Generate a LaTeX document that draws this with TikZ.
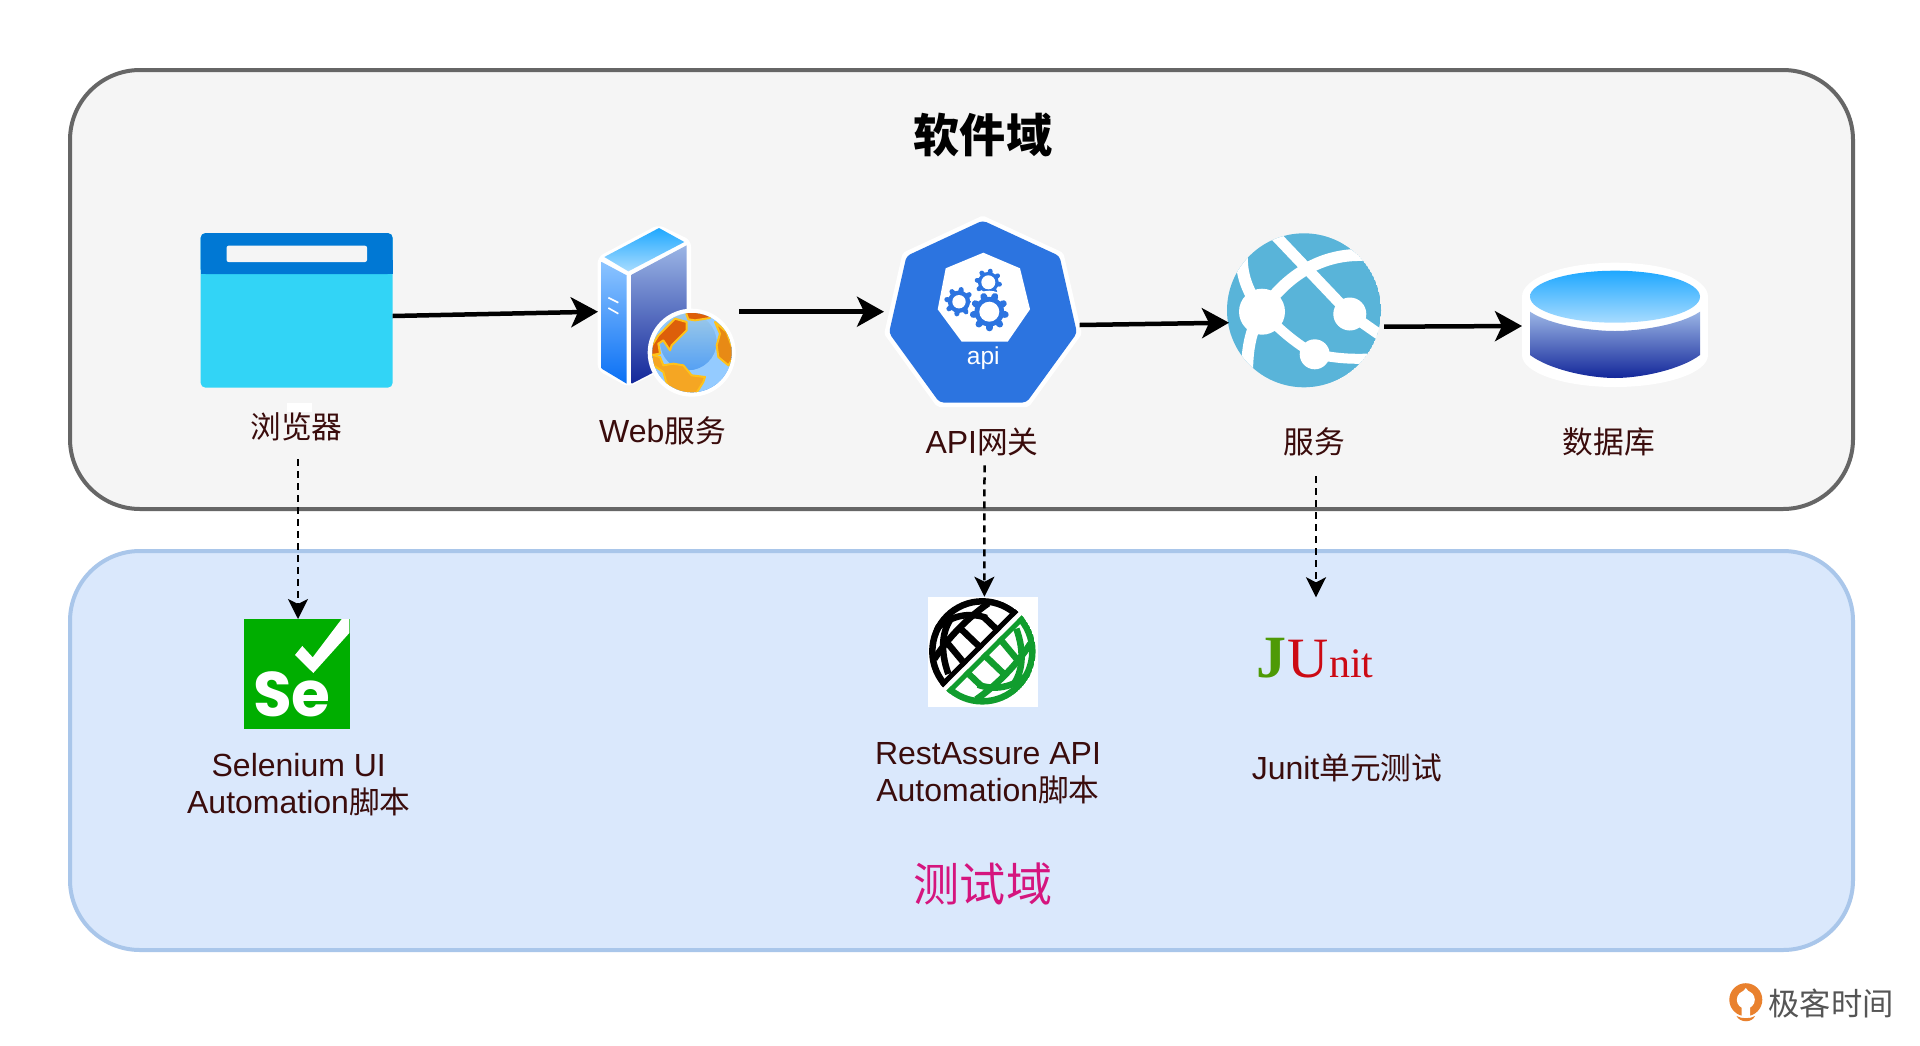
\documentclass[tikz,border=0pt]{standalone}
\usepackage{fontspec}
\setmainfont{Liberation Sans}
\newfontfamily\cjk[Scale=0.96]{Noto Sans CJK SC}
\newfontfamily\seriflogo{Liberation Serif}
\newfontfamily\logosans{Poppins}
\usetikzlibrary{arrows.meta,calc,shadings}
\definecolor{inkmaroon}{HTML}{3A0C0C}
\definecolor{softgrey}{HTML}{F5F5F5}
\definecolor{softedge}{HTML}{666666}
\definecolor{testfill}{HTML}{DAE8FC}
\definecolor{testedge}{HTML}{A9C6EA}
\definecolor{k8sblue}{HTML}{2C74E0}
\definecolor{azureblue}{HTML}{59B4D9}
\definecolor{segreen}{HTML}{00AE00}
\definecolor{ragreen}{HTML}{119D2E}
\definecolor{testpink}{HTML}{D5157E}
\definecolor{landyellow}{HTML}{FFC21A}
\definecolor{landdark}{HTML}{DD5F0A}
\definecolor{landmid}{HTML}{E88A15}
\definecolor{landlight}{HTML}{F5A623}
\definecolor{winhead}{HTML}{0078D4}
\definecolor{winbody}{HTML}{32D4F6}
\definecolor{skytop}{HTML}{1FA8FF}
\definecolor{skylow}{HTML}{A8DCFF}
\definecolor{bodytop}{HTML}{9BB5E5}
\definecolor{bodylow}{HTML}{13279A}
\definecolor{sidetop}{HTML}{8CC4FF}
\definecolor{sidelow}{HTML}{0A70F5}
\definecolor{juGreen}{HTML}{4E9A06}
\definecolor{juRed}{HTML}{CC0A14}
\definecolor{gtorange}{HTML}{E9812E}
\definecolor{gtgrey}{HTML}{555555}
\tikzset{
  domainbox/.style={line width=4pt,rounded corners=70pt},
  iconbox/.style={inner sep=0pt,outer sep=0pt},
  caption/.style={inner sep=0pt,text=inkmaroon,align=center,font=\fontsize{32}{37}\selectfont},
  flow/.style={line width=4.5pt,black,-{Stealth[length=27pt,width=30pt,inset=7pt]}},
  trace/.style={line width=2.5pt,black,dash pattern=on 7pt off 5pt,-{Stealth[length=20pt,width=20pt,inset=5pt]}},
  globeline/.style={white,line width=12pt},
  ragrid/.style={line width=6.5pt},
  landedge/.style={draw=landyellow,line width=2pt,line join=round},
}
\newcommand{\gearmark}[5]{%
  \fill[k8sblue] (#1,#2) circle[radius=0.8*#3];
  \foreach \a in {1,...,#5}{
    \draw[k8sblue,line cap=round,line width=0.36*#3 pt]
      ({#1+0.7*#3*cos(\a*360/#5+10)},{#2+0.7*#3*sin(\a*360/#5+10)}) --
      ({#1+0.88*#3*cos(\a*360/#5+10)},{#2+0.88*#3*sin(\a*360/#5+10)});
  }
  \fill[white] (#1,#2) circle[radius=#4];
}
\begin{document}
\begin{tikzpicture}[x=1pt,y=-1pt]
\useasboundingbox (0,0) rectangle (1920,1045);
\fill[white] (0,0) rectangle (1920,1045);

% domains
\draw[domainbox,draw=softedge,fill=softgrey] (70,70) rectangle (1853,509);
\draw[domainbox,draw=testedge,fill=testfill] (70,551) rectangle (1853,950);
\node[iconbox,font=\cjk\bfseries\fontsize{48}{50}\selectfont] (softtitle) at (983,135) {软件域};
\node[iconbox,text=testpink,font=\cjk\fontsize{48}{50}\selectfont] (testtitle) at (983,884) {测试域};

% holders of the icons
\node[iconbox,minimum width=192pt,minimum height=155pt] (browser) at (296.6,310.4) {};
\node[iconbox,minimum width=137pt,minimum height=160pt] (webserver) at (666.5,311.7) {};
\node[iconbox,minimum width=195pt,minimum height=180pt] (gateway) at (981.5,311.7) {};
\node[iconbox,minimum width=152pt,minimum height=154pt] (service) at (1305,310) {};
\node[iconbox,minimum width=186pt,minimum height=124pt] (database) at (1615,326) {};
\node[iconbox,minimum width=105pt,minimum height=110pt] (selenium) at (298,674) {};
\node[iconbox,minimum width=110pt,minimum height=110pt] (restassure) at (984.4,651.7) {};
\node[iconbox,minimum width=116pt,minimum height=80pt] (junit) at (1316,637.3) {};

% browser
\fill[white] (286.7,402.7) rectangle (312,412);
\fill[winbody,rounded corners=5pt] (200.6,233) rectangle (392.7,387.7);
\fill[winhead,rounded corners=5pt] (200.6,233) -- (392.7,233) -- (392.7,274) -- (200.6,274) -- cycle;
\fill[winhead] (200.6,260) rectangle (392.7,274);
\fill[softgrey,rounded corners=2pt] (226.6,245.7) rectangle (367,262);

% web server
\begin{scope}[shift={(595,222)},scale=1/3]
  \fill[white,rounded corners=6pt] (190,8) -- (288,55) -- (288,400) -- (100,495) -- (8,445) -- (8,105) -- cycle;
  \shade[top color=skytop,bottom color=skylow] (192,18) -- (268,60) -- (100,148) -- (28,105) -- cycle;
  \shade[top color=sidetop,bottom color=sidelow] (20,120) -- (95,160) -- (95,485) -- (20,440) -- cycle;
  \shade[top color=bodytop,bottom color=bodylow] (110,158) -- (275,70) -- (275,400) -- (110,485) -- cycle;
  \draw[white,line width=1.6pt] (40,227) -- (70,242) (40,258) -- (70,275);
  \fill[white] (290,392) circle[radius=132];
  \begin{scope}
    \clip (291,392) circle[radius=119];
    \shade[top color=skylow!50!softedge!30!skylow,bottom color=sidelow!70!skylow] (172,273) rectangle (410,511);
    \fill[sidetop!70!skylow,even odd rule] (172,273) rectangle (410,511) (280,360) circle[radius=85];
    \filldraw[landedge,fill=landdark] (165,380) -- (190,340) -- (240,290) -- (275,300) -- (275,325) -- (230,370) -- (225,385) -- (205,355) -- (190,365) -- (195,395) -- (165,400) -- cycle;
    \filldraw[landedge,fill=landdark] (270,265) -- (345,270) -- (345,288) -- (300,295) -- (280,292) -- cycle;
    \filldraw[landedge,fill=landmid] (360,300) -- (395,330) -- (420,400) -- (400,430) -- (370,405) -- (365,370) -- (375,335) -- cycle;
    \filldraw[landedge,fill=landlight] (160,395) -- (195,405) -- (205,430) -- (235,425) -- (265,430) -- (290,460) -- (330,465) -- (325,480) -- (300,520) -- (250,520) -- (215,485) -- (205,450) -- (175,430) -- cycle;
  \end{scope}
\end{scope}

% API gateway
\draw[white,line width=9pt,line join=round,fill=white] (982.8,220.5) -- (1059.5,256) -- (1077,333) -- (1026.5,402.5) -- (939.5,402.5) -- (889,333) -- (906.5,256) -- cycle;
\fill[k8sblue,rounded corners=4pt] (982.8,220.5) -- (1059.5,256) -- (1077,333) -- (1026.5,402.5) -- (939.5,402.5) -- (889,333) -- (906.5,256) -- cycle;
\fill[white] (983.3,252.7) -- (1020,268.3) -- (1030,309.3) -- (1007.7,341.7) -- (961.7,341.7) -- (937.7,309.3) -- (945.7,268.3) -- cycle;
\gearmark{988.3}{282.3}{13}{7}{8}
\gearmark{959}{301.7}{14}{6.7}{8}
\fill[white] (989.3,311.7) circle[radius=21];
\gearmark{989.3}{311.7}{18.5}{10}{9}
\node[iconbox,text=white,font=\fontsize{24.5}{26}\selectfont] (apitext) at (983.3,358) {api};

% service globe
\begin{scope}
  \clip (1304,310.3) circle[radius=77];
  \fill[azureblue] (1304,310.3) circle[radius=77];
  \draw[globeline,line width=11pt] (1272,232) -- (1350,314) -- (1390,342);
  \draw[globeline] (1262,311.7) .. controls (1290,270) and (1330,250) .. (1375,256);
  \draw[globeline] (1243,245) .. controls (1238,275) and (1250,295) .. (1262,311.7) .. controls (1250,330) and (1247,350) .. (1247,375);
  \draw[globeline,line width=10pt] (1262,311.7) .. controls (1285,335) and (1300,346) .. (1314.7,354) .. controls (1335,358) and (1350,360) .. (1380,358);
  \fill[white] (1262,311.7) circle[radius=23];
  \fill[white] (1349.8,314) circle[radius=16.5];
  \fill[white] (1314.7,354.3) circle[radius=15];
\end{scope}

% database
\fill[white] (1615,296.7) ellipse[x radius=93,y radius=34];
\fill[white] (1522,296.7) rectangle (1708,355);
\fill[white] (1615,355) ellipse[x radius=93,y radius=32];
\shade[top color=bodytop,bottom color=bodylow] (1530,311.7) .. controls (1550,325) and (1590,331) .. (1615,331) .. controls (1640,331) and (1680,325) .. (1700,311.7) -- (1700,355) .. controls (1680,370) and (1640,378) .. (1615,378) .. controls (1590,378) and (1550,370) .. (1530,355) -- cycle;
\shade[top color=skytop,bottom color=skylow] (1615,296.7) ellipse[x radius=85,y radius=26];

% selenium
\fill[segreen] (244,619) rectangle (349.5,729);
\fill[white] (341.7,619) -- (349.3,619) -- (349.3,633) -- (313.3,673) -- (295,655) -- (302.3,646) -- (312.7,657.3) -- cycle;
\node[iconbox,anchor=base west,text=white,font=\logosans\bfseries\fontsize{63}{63}\selectfont] (setext) at (253,716) {Se};

% rest assured
\fill[white] (928,596.7) rectangle (1038,706.7);
\begin{scope}[shift={(925,594)},scale=1/3]
  \foreach \inkc/\turn in {black/0,ragreen/180}{
    \begin{scope}[rotate around={\turn:(172,172)}]
      \begin{scope}
        \clip (332,2) -- (-3,337) -- (-30,337) -- (-30,-30) -- (332,-30) -- cycle;
        \clip (172,172) circle[radius=160];
        \draw[\inkc,ragrid] (172,172) circle[radius=150];
        \draw[\inkc,line width=10pt] (332,2) -- (-3,337);
        \draw[\inkc,ragrid] (190,28) .. controls (130,70) and (70,130) .. (28,195);
        \draw[\inkc,ragrid] (175,68) -- (238,128);
        \draw[\inkc,ragrid] (108,105) -- (178,172);
        \draw[\inkc,ragrid] (68,148) -- (128,220);
        \draw[\inkc,ragrid] (30,108) .. controls (80,60) and (140,55) .. (185,72);
        \draw[\inkc,ragrid] (82,68) .. controls (50,110) and (45,170) .. (70,240);
      \end{scope}
    \end{scope}
  }
\end{scope}

% junit
\node[iconbox,anchor=base west,text=juGreen,font=\seriflogo\bfseries\fontsize{60}{60}\selectfont] (jletter) at (1256,677.3) {J};
\node[iconbox,anchor=base west,text=juRed,font=\seriflogo\fontsize{57}{60}\selectfont] (uletter) at (1287,677.3) {U};
\node[iconbox,anchor=base west,text=juRed,font=\seriflogo\fontsize{42}{45}\selectfont] (nitletters) at (1329,677.3) {nit};

% captions
\node[caption] (lblbrowser) at (296.5,427) {\cjk 浏览器};
\node[caption] (lblweb) at (662.5,431) {Web{\cjk 服务}};
\node[caption] (lblgateway) at (982,442) {API{\cjk 网关}};
\node[caption] (lblservice) at (1314,442) {\cjk 服务};
\node[caption] (lbldb) at (1609,442) {\cjk 数据库};
\node[caption] (lblselenium) at (298.8,785) {Selenium UI\\Automation{\cjk 脚本}};
\node[caption] (lblrest) at (988,773) {RestAssure API\\Automation{\cjk 脚本}};
\node[caption] (lbljunit) at (1347,768) {Junit{\cjk 单元测试}};

% watermark
\fill[gtorange] (1745.8,999.7) circle[radius=16.5];
\fill[white] (1745.8,999.7) circle[radius=9];
\fill[white] (1741.5,993) -- (1745.8,988) -- (1750,993) -- (1750,1017) -- (1741.5,1017) -- cycle;
\fill[gtorange] (1736.5,1016) .. controls (1742,1019) and (1750,1019) .. (1755,1016) .. controls (1752,1023) and (1740,1023) .. (1736.5,1016) -- cycle;
\node[iconbox,text=gtgrey,font=\cjk\fontsize{32.6}{32}\selectfont] (wmtext) at (1831,1003.5) {极客时间};

% connectors
\draw[flow] ($(browser.east)+(0,5.6)$) -- (webserver.west);
\draw[flow] ($(webserver.east)+(4,0)$) -- (gateway.west);
\draw[flow] ($(gateway.east)+(0.6,13.3)$) -- ($(service.west)+(0,12.7)$);
\draw[flow] ($(service.east)+(3,16.7)$) -- (database.west);
\draw[trace] ($(lblbrowser.south)+(1.5,18)$) -- (selenium.north);
\draw[trace] ($(lblgateway.south)+(2.5,9)$) -- (restassure.north);
\draw[trace] ($(lblservice.south)+(2,20)$) -- (junit.north);
\end{tikzpicture}
\end{document}
